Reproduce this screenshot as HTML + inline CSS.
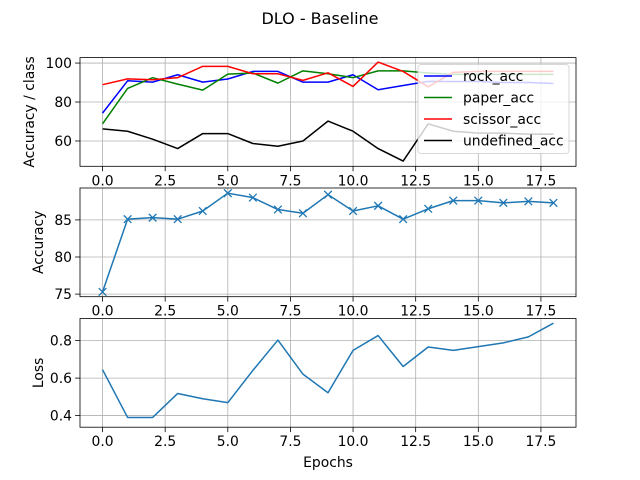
<!DOCTYPE html>
<html><head><meta charset="utf-8"><style>
body{margin:0;background:#fff}
svg{display:block;font-family:"DejaVu Sans","Liberation Sans",sans-serif}
</style></head><body>
<svg id="c" width="640" height="480" viewBox="0 0 640 480"></svg>
<script>
const epochs=[0,1,2,3,4,5,6,7,8,9,10,11,12,13,14,15,16,17,18];
const rockAcc=[74.3,90.9,90.2,94,90.2,91.8,95.7,95.7,90.2,90.2,94,86.3,88.5,90.6,90.5,90.5,90,90,89.5];
const paperAcc=[68.8,87,92.5,89.2,86.1,94.3,94.9,89.7,96,94.5,92.5,96,96,94.9,94.2,94.2,94.2,94.2,94.2];
const scissorAcc=[88.9,91.9,91.4,92.5,98.3,98.3,94.5,94.5,91.1,95,88,100.5,95.7,87.8,95.2,95.7,95.7,95.7,95.7];
const undefinedAcc=[66.2,65,60.9,56.1,63.8,63.8,58.7,57.3,60,70.2,65,56.1,49.7,68.8,65,64,64,63.5,63.5];
const accuracy=[75.3,85.1,85.3,85.1,86.2,88.6,88,86.4,85.9,88.4,86.2,86.9,85.1,86.5,87.6,87.6,87.3,87.5,87.3];
const loss=[0.645,0.39,0.39,0.518,0.49,0.469,0.641,0.803,0.621,0.522,0.748,0.827,0.662,0.766,0.748,0.768,0.788,0.82,0.893];
const xTicks=[0,2.5,5,7.5,10,12.5,15,17.5];
const xTickLabels=["0.0","2.5","5.0","7.5","10.0","12.5","15.0","17.5"];
const topTicks=[60,80,100];
const midTicks=[75,80,85];
const botTicks=[0.4,0.6,0.8];
const botTickLabels=["0.4","0.6","0.8"];

const svg=document.getElementById('c');
const NS='http://www.w3.org/2000/svg';
function mk(tag,attrs,parent){const e=document.createElementNS(NS,tag);for(const k in attrs)e.setAttribute(k,attrs[k]);(parent||svg).appendChild(e);return e;}
const L=80,R=576,xmin=-0.9,xmax=18.9;
function X(v){return L+(v-xmin)/(xmax-xmin)*(R-L);}
function mkY(top,bot,ymin,ymax){return v=>bot-(v-ymin)/(ymax-ymin)*(bot-top);}

const axes=[
 {top:57.6,bot:166.3,ymin:47.0,ymax:102.8,ticks:topTicks,labels:topTicks.map(String),ylabel:"Accuracy / class",name:"class-accuracy-panel"},
 {top:188,bot:296.7,ymin:74.65,ymax:89.3,ticks:midTicks,labels:midTicks.map(String),ylabel:"Accuracy",name:"accuracy-panel"},
 {top:318.5,bot:427.2,ymin:0.338,ymax:0.918,ticks:botTicks,labels:botTickLabels,ylabel:"Loss",name:"loss-panel"}
];

const t=mk('text',{x:320,y:24,'text-anchor':'middle','font-size':16,fill:'#000'});
t.textContent='DLO - Baseline';



axes.forEach((a,i)=>{
 const g=mk('g',{});
 
 
 a.Y=mkY(a.top,a.bot,a.ymin,a.ymax);
 a.g=g;
 xTicks.forEach((v,j)=>{
  mk('line',{x1:X(v),x2:X(v),y1:a.top,y2:a.bot,stroke:'#b0b0b0','stroke-width':0.8},g);
  mk('line',{x1:X(v),x2:X(v),y1:a.bot,y2:a.bot+4.9,stroke:'#000','stroke-width':0.8},g);
  const tl=mk('text',{x:X(v),y:a.bot+19,'text-anchor':'middle','font-size':13.9,fill:'#000'},g);
  tl.textContent=xTickLabels[j];
  
  
 });
 a.ticks.forEach((v,j)=>{
  mk('line',{x1:L,x2:R,y1:a.Y(v),y2:a.Y(v),stroke:'#b0b0b0','stroke-width':0.8},g);
  mk('line',{x1:L-4.9,x2:L,y1:a.Y(v),y2:a.Y(v),stroke:'#000','stroke-width':0.8},g);
  const tl=mk('text',{x:L-8,y:a.Y(v)+5,'text-anchor':'end','font-size':13.9,fill:'#000'},g);
  tl.textContent=a.labels[j];
  
  
 });
 const cy=(a.top+a.bot)/2;
 const yl=mk('text',{x:0,y:0,'text-anchor':'middle','font-size':13.9,fill:'#000',transform:`translate(${i==0?34:43},${cy}) rotate(-90)`},g);
 yl.textContent=a.ylabel;
 
 
});

function line(a,data,color,name){
 const p=mk('polyline',{points:data.map((v,i)=>X(epochs[i])+','+a.Y(v)).join(' '),fill:'none',stroke:color,'stroke-width':1.5,'stroke-linejoin':'round'},a.g);
 
 
 return p;
}
const A=axes[0];
line(A,rockAcc,'#0000ff','rock-acc-line');
line(A,paperAcc,'#008000','paper-acc-line');
line(A,scissorAcc,'#ff0000','scissor-acc-line');
line(A,undefinedAcc,'#000000','undefined-acc-line');
line(axes[1],accuracy,'#1f77b4','accuracy-line');
accuracy.forEach((v,i)=>{
 const x=X(epochs[i]),y=axes[1].Y(v),s=3.8;
 const m=mk('path',{d:`M${x-s},${y-s}L${x+s},${y+s}M${x-s},${y+s}L${x+s},${y-s}`,stroke:'#1f77b4','stroke-width':1.3},axes[1].g);
 
 
});
line(axes[2],loss,'#1f77b4','loss-line');

axes.forEach(a=>{
 const f=mk('rect',{x:L,y:a.top,width:R-L,height:a.bot-a.top,fill:'none',stroke:'#000','stroke-width':0.8},a.g);
 
 
});

const lg=mk('g',{});


mk('rect',{x:418,y:64.5,width:151,height:89,rx:3,fill:'#fff','fill-opacity':0.8,stroke:'#cccccc','stroke-width':0.8},lg);
const legNames=['rock_acc','paper_acc','scissor_acc','undefined_acc'];
const legColors=['#0000ff','#008000','#ff0000','#000000'];
legNames.forEach((n,i)=>{
 const y=76+i*21.5;
 const e=mk('g',{},lg);
 
 
 mk('line',{x1:424,x2:452,y1:y,y2:y,stroke:legColors[i],'stroke-width':1.5},e);
 const tx=mk('text',{x:463,y:y+5,'font-size':13.9,fill:'#000'},e);
 tx.textContent=n;
});

const xl=mk('text',{x:328,y:467,'text-anchor':'middle','font-size':13.9,fill:'#000'});
xl.textContent='Epochs';


</script>
</body></html>
